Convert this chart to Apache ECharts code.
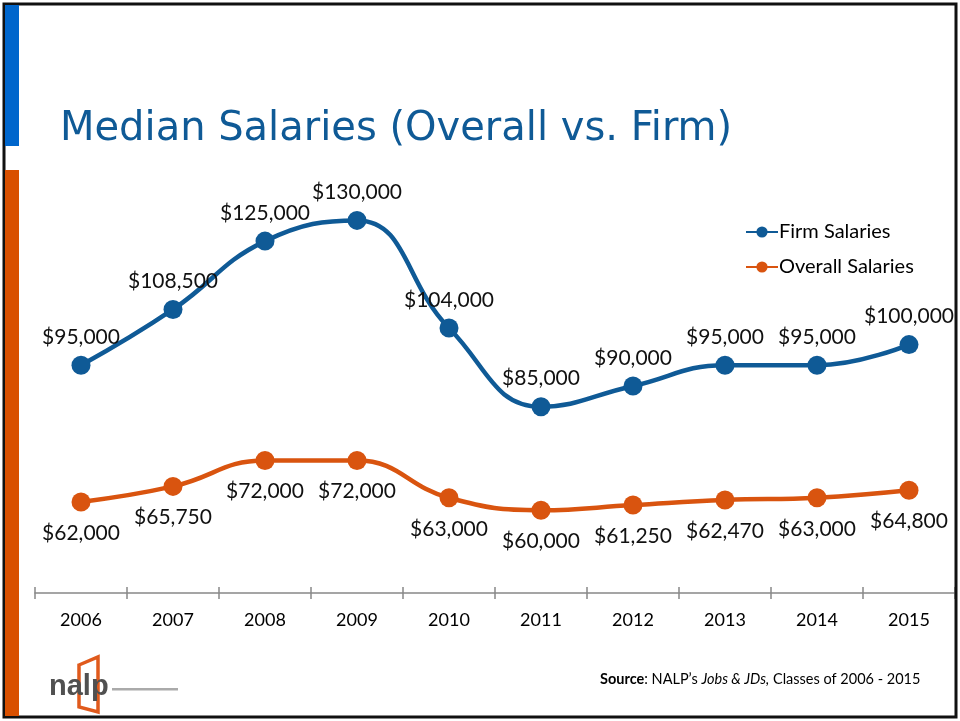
<!DOCTYPE html>
<html>
<head>
<meta charset="utf-8">
<script src="https://cdn.jsdelivr.net/npm/echarts@6/dist/echarts.min.js"></script>
<style>
  html, body { margin: 0; padding: 0; background: #fff; }
  #chart { width: 960px; height: 721px; }
</style>
</head>
<body>
<div id="chart"></div>
<script>
var years = ['2006', '2007', '2008', '2009', '2010', '2011', '2012', '2013', '2014', '2015'];
var firmSalaries = [95000, 108500, 125000, 130000, 104000, 85000, 90000, 95000, 95000, 100000];
var overallSalaries = [62000, 65750, 72000, 72000, 63000, 60000, 61250, 62470, 63000, 64800];

var blue = '#0F5A96';
var orange = '#D9540F';
var labelFont = 'Lato, "Open Sans", sans-serif';

function money(v) {
    return '$' + v.toString().replace(/\B(?=(\d{3})+(?!\d))/g, ',');
}

var chart = echarts.init(document.getElementById('chart'));

var option = {
    backgroundColor: '#fff',
    animation: false,
    grid: {
        left: 35,
        right: 5,
        top: 179,
        bottom: 128
    },
    legend: {
        data: ['Firm Salaries', 'Overall Salaries'],
        orient: 'vertical',
        left: 745,
        top: 222,
        padding: 0,
        itemWidth: 32,
        itemHeight: 14,
        itemGap: 15,
        textStyle: {
            fontFamily: labelFont,
            fontSize: 20,
            color: '#000',
            padding: [0, 0, 0, -4]
        }
    },
    xAxis: [
        {
            type: 'category',
            data: years,
            boundaryGap: true,
            axisLine: { lineStyle: { color: '#888', width: 1.5 } },
            axisTick: { show: true, length: 6, lineStyle: { color: '#888', width: 1.5 } },
            axisLabel: {
                margin: 18,
                fontFamily: labelFont,
                fontSize: 18,
                color: '#000'
            },
            splitLine: { show: false }
        },
        {
            // second copy of the axis only to draw the upper half of the ticks
            type: 'category',
            data: years,
            position: 'bottom',
            boundaryGap: true,
            axisLine: { show: false },
            axisTick: { show: true, inside: true, length: 6, lineStyle: { color: '#888', width: 1.5 } },
            axisLabel: { show: false },
            splitLine: { show: false }
        }
    ],
    yAxis: {
        type: 'value',
        min: 40000,
        max: 140000,
        show: false
    },
    series: [
        {
            name: 'Firm Salaries',
            type: 'line',
            data: firmSalaries,
            smooth: 0.45,
            symbol: 'circle',
            symbolSize: 19,
            itemStyle: { color: blue },
            lineStyle: { color: blue, width: 4.5 },
            label: {
                show: true,
                position: 'top',
                distance: 8,
                formatter: function (p) { return money(p.value); },
                fontFamily: labelFont,
                fontSize: 21,
                color: '#111'
            }
        },
        {
            name: 'Overall Salaries',
            type: 'line',
            data: overallSalaries,
            smooth: 0.45,
            symbol: 'circle',
            symbolSize: 19,
            itemStyle: { color: orange },
            lineStyle: { color: orange, width: 4.5 },
            label: {
                show: true,
                position: 'bottom',
                distance: 11,
                formatter: function (p) { return money(p.value); },
                fontFamily: labelFont,
                fontSize: 21,
                color: '#111'
            }
        }
    ],
    graphic: [
        // frame and side bars
        { type: 'rect', shape: { x: 4, y: 4, width: 952, height: 713 }, style: { fill: 'none', stroke: '#111', lineWidth: 3 }, z: 10 },
        { type: 'rect', shape: { x: 5, y: 5, width: 14, height: 141 }, style: { fill: '#0066CC' }, z: 11 },
        { type: 'rect', shape: { x: 5, y: 170, width: 14, height: 546 }, style: { fill: '#D95000' }, z: 11 },
        {
            type: 'text', left: 60, top: 110,
            style: {
                text: 'Median Salaries (Overall vs. Firm)',
                font: '40px Tahoma, "DejaVu Sans", sans-serif',
                fill: '#0F5A96'
            }
        },
        {
            type: 'text', left: 600, top: 672,
            style: {
                text: '{b|Source}: NALP\u2019s {i|Jobs & JDs,} Classes of 2006 - 2015',
                font: '14.5px ' + labelFont,
                fill: '#000',
                rich: {
                    b: { fontWeight: 'bold', fontSize: 14.5, fontFamily: labelFont },
                    i: { fontStyle: 'italic', fontSize: 14.5, fontFamily: labelFont }
                }
            }
        },
        // nalp logo
        { type: 'polygon', shape: { points: [[79, 665], [98, 657], [98, 712], [79, 707]] }, style: { fill: 'none', stroke: '#E05A1C', lineWidth: 3.5 } },
        {
            type: 'text', left: 49, top: 672,
            style: { text: 'nalp', font: 'bold 29px "Liberation Sans Narrow", "Liberation Sans", sans-serif', fill: '#505050' }
        },
        { type: 'rect', shape: { x: 112, y: 688, width: 66, height: 2.5 }, style: { fill: '#aaa' } }
    ]
};

chart.setOption(option);
</script>
</body>
</html>
